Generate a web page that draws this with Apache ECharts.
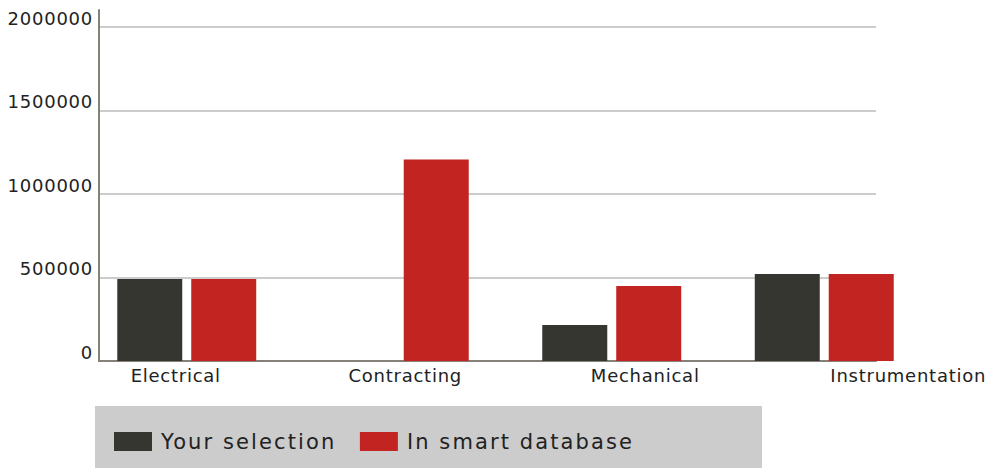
<!DOCTYPE html>
<html><head><meta charset="utf-8">
<script src="https://cdn.jsdelivr.net/npm/echarts@6/dist/echarts.min.js"></script>
<style>
html,body{margin:0;padding:0;background:#fff}
#c{width:987px;height:468px}
#c text[style*="18px"]{letter-spacing:0.75px}
#c text[style*="21px"]{letter-spacing:2.1px}
</style>
</head><body><div id="c"></div>
<script>
const categories = ['Electrical', 'Contracting', 'Mechanical', 'Instrumentation'];
const seriesNames = ['Your selection', 'In smart database'];
const yourSelection = [490000, 0, 215000, 520000];
const inSmartDatabase = [490000, 1205000, 448000, 520000];
const yMin = 0;
const yMax = 2100000;
const yInterval = 500000;

const FONT = 'DejaVu Sans';
const TXT = '#222222';
const AXIS = '#86807a';
const labelRich = {
  c0: { padding: [0, 22, 0, 0], fontSize: 18, fontFamily: FONT, color: TXT },
  c1: { padding: [0, 0, 0, 12], fontSize: 18, fontFamily: FONT, color: TXT },
  c2: { padding: [0, 0, 0, 67], fontSize: 18, fontFamily: FONT, color: TXT },
  c3: { padding: [0, 0, 0, 168], fontSize: 18, fontFamily: FONT, color: TXT }
};

const chart = echarts.init(document.getElementById('c'), null, { renderer: 'svg' });
chart.setOption({
  animation: false,
  backgroundColor: '#ffffff',
  textStyle: { fontFamily: FONT },
  graphic: [{
    type: 'rect', z: -10, silent: true,
    shape: { x: 95, y: 406, width: 667, height: 62 },
    style: { fill: '#cccccc' }
  }],
  legend: {
    data: seriesNames, left: 114, top: 431, padding: 0,
    icon: 'rect', itemWidth: 38, itemHeight: 19, itemGap: 53, z: 20,
    textStyle: { fontSize: 21, color: TXT, fontFamily: FONT, padding: [0, 0, 0, 4] }
  },
  grid: [
    { left: 80.5, right: 56.5, top: 10, bottom: 107, outerBoundsMode: 'none' },
    { left: 99, right: 111, top: 10, bottom: 107, outerBoundsMode: 'none' }
  ],
  xAxis: [
    {
      type: 'category', gridIndex: 0, data: categories,
      axisLine: { show: false }, axisTick: { show: false }, splitLine: { show: false },
      axisLabel: {
        interval: 0, margin: 5, hideOverlap: false,
        fontSize: 18, fontFamily: FONT, color: TXT,
        formatter: (v, i) => '{c' + i + '|' + v + '}',
        rich: labelRich
      }
    },
    {
      type: 'category', gridIndex: 1, data: categories,
      axisLine: { show: true, lineStyle: { color: AXIS, width: 2 } },
      axisTick: { show: false }, axisLabel: { show: false }, splitLine: { show: false }
    }
  ],
  yAxis: [
    { type: 'value', gridIndex: 0, min: yMin, max: yMax, interval: yInterval, show: false },
    {
      type: 'value', gridIndex: 1, min: yMin, max: yMax, interval: yInterval,
      axisLine: { show: true, lineStyle: { color: AXIS, width: 2 } },
      axisTick: { show: false },
      splitLine: { show: true, showMinLine: false, showMaxLine: false, lineStyle: { color: '#cccccc', width: 2 } },
      axisLabel: {
        showMaxLabel: false, fontSize: 18, fontFamily: FONT, color: TXT,
        verticalAlign: 'bottom', margin: 6,
        formatter: v => '{n|' + String(v) + '}',
        rich: { n: { fontSize: 18, fontFamily: FONT, color: TXT, lineHeight: 17 } }
      }
    }
  ],
  series: [
    {
      name: seriesNames[0], type: 'bar', xAxisIndex: 0, yAxisIndex: 0,
      data: yourSelection, barWidth: 65, barGap: '13.8%',
      itemStyle: { color: '#363631' }
    },
    {
      name: seriesNames[1], type: 'bar', xAxisIndex: 0, yAxisIndex: 0,
      data: inSmartDatabase, barWidth: 65, barGap: '13.8%',
      itemStyle: { color: '#c22421' }
    }
  ]
});
</script>
</body></html>
